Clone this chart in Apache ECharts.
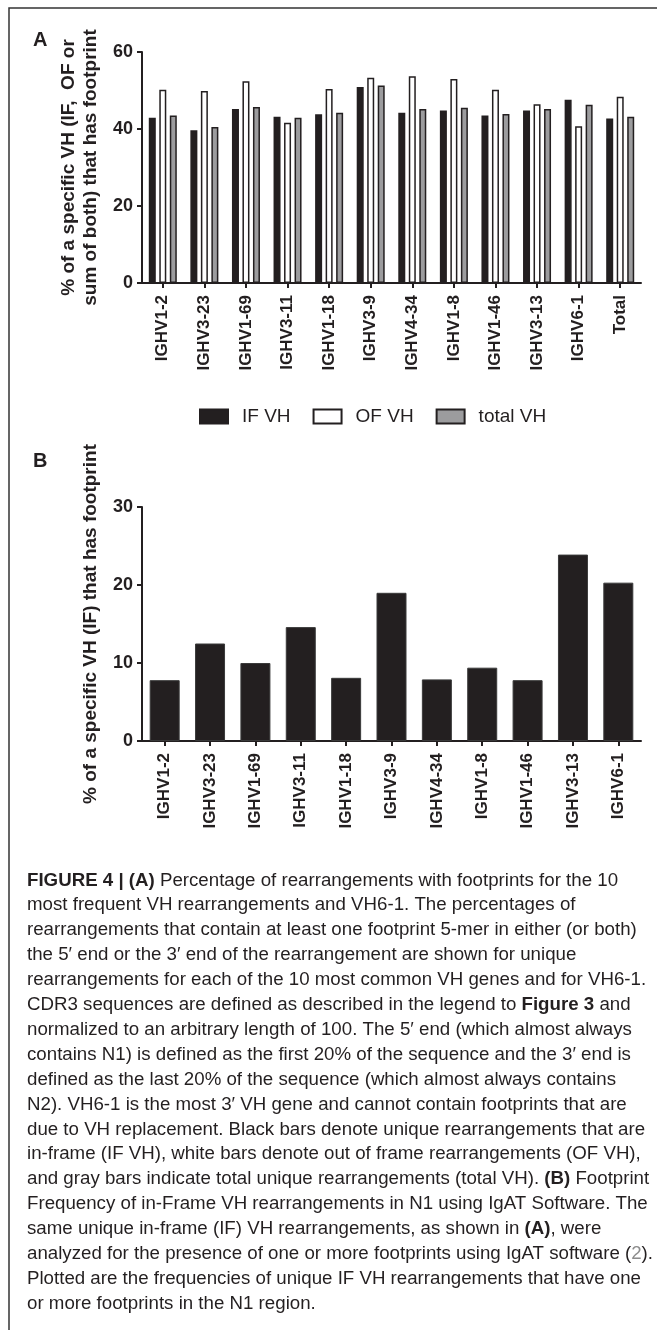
<!DOCTYPE html>
<html>
<head>
<meta charset="utf-8">
<script src="https://cdn.jsdelivr.net/npm/echarts@6/dist/echarts.min.js"></script>
<style>
html,body{margin:0;padding:0;background:#fff;}
#chart{width:657px;height:1330px;}
</style>
</head>
<body>
<div id="chart"></div>
<script>
// ---------- data ----------
const categoriesA = ['IGHV1-2','IGHV3-23','IGHV1-69','IGHV3-11','IGHV1-18','IGHV3-9','IGHV4-34','IGHV1-8','IGHV1-46','IGHV3-13','IGHV6-1','Total'];
const ifVH    = [42.9, 39.7, 45.2, 43.2, 43.8, 50.9, 44.2, 44.8, 43.5, 44.8, 47.6, 42.7];
const ofVH    = [50.2, 49.9, 52.4, 41.6, 50.4, 53.3, 53.7, 53.0, 50.2, 46.4, 40.7, 48.4];
const totalVH = [43.5, 40.5, 45.7, 42.9, 44.2, 51.3, 45.2, 45.5, 43.9, 45.2, 46.3, 43.2];
const seriesNamesA = ['IF VH', 'OF VH', 'total VH'];

const categoriesB = ['IGHV1-2','IGHV3-23','IGHV1-69','IGHV3-11','IGHV1-18','IGHV3-9','IGHV4-34','IGHV1-8','IGHV1-46','IGHV3-13','IGHV6-1'];
const ifN1 = [7.8, 12.5, 10.0, 14.6, 8.1, 19.0, 7.9, 9.4, 7.8, 23.9, 20.3];

const yTicksA = [0, 20, 40, 60];
const yTicksB = [0, 10, 20, 30];

const yTitleA = '% of a specific VH (IF,  OF or\nsum of both) that has footprint';
const yTitleB = '% of a specific VH (IF) that has footprint';

const captionLines = [
  '{b|FIGURE 4 | (A)} Percentage of rearrangements with footprints for the 10',
  'most frequent VH rearrangements and VH6-1. The percentages of',
  'rearrangements that contain at least one footprint 5-mer in either (or both)',
  'the 5\u2032 end or the 3\u2032 end of the rearrangement are shown for unique',
  'rearrangements for each of the 10 most common VH genes and for VH6-1.',
  'CDR3 sequences are defined as described in the legend to {b|Figure 3} and',
  'normalized to an arbitrary length of 100. The 5\u2032 end (which almost always',
  'contains N1) is defined as the first 20% of the sequence and the 3\u2032 end is',
  'defined as the last 20% of the sequence (which almost always contains',
  'N2). VH6-1 is the most 3\u2032 VH gene and cannot contain footprints that are',
  'due to VH replacement. Black bars denote unique rearrangements that are',
  'in-frame (IF VH), white bars denote out of frame rearrangements (OF VH),',
  'and gray bars indicate total unique rearrangements (total VH). {b|(B)} Footprint',
  'Frequency of in-Frame VH rearrangements in N1 using IgAT Software. The',
  'same unique in-frame (IF) VH rearrangements, as shown in {b|(A)}, were',
  'analyzed for the presence of one or more footprints using IgAT software ({g|2}).',
  'Plotted are the frequencies of unique IF VH rearrangements that have one',
  'or more footprints in the N1 region.'
];

// ---------- styles ----------
const FONT = "'Liberation Sans', Arial, Helvetica, sans-serif";
const INK = '#231f20';
const GRAY = '#9c9c9e';
const CAP_SIZE = 18.7;
const CAP_LH = 24.9;

const chart = echarts.init(document.getElementById('chart'), null, {renderer: 'canvas'});

function makeXAxis(gridIndex, cats) {
  return {
    type: 'category', gridIndex: gridIndex, data: cats,
    axisLine: {lineStyle: {color: INK, width: 2}},
    axisTick: {show: true, alignWithLabel: true, length: 5, lineStyle: {color: INK, width: 2}},
    axisLabel: {rotate: 90, margin: 12, fontSize: 17, fontWeight: 'bold', color: INK, fontFamily: FONT, interval: 0}
  };
}
function makeYAxis(gridIndex, ticks, title) {
  return {
    type: 'value', gridIndex: gridIndex,
    min: ticks[0], max: ticks[ticks.length - 1], interval: ticks[1] - ticks[0],
    axisLine: {show: true, lineStyle: {color: INK, width: 2}},
    axisTick: {show: true, length: 5, lineStyle: {color: INK, width: 2}},
    axisLabel: {margin: 9, fontSize: 18, fontWeight: 'bold', color: INK, fontFamily: FONT},
    splitLine: {show: false},
    name: title, nameLocation: 'middle', nameRotate: 90, nameGap: 40,
    nameTextStyle: {fontSize: 19, fontWeight: 'bold', color: INK, fontFamily: FONT, lineHeight: 22, align: 'center'}
  };
}

const option = {
  animation: false,
  backgroundColor: '#fff',
  grid: [
    {left: 142, top: 52, width: 499, height: 231},
    {left: 142, top: 507, width: 499, height: 234}
  ],
  xAxis: [makeXAxis(0, categoriesA), makeXAxis(1, categoriesB)],
  yAxis: [makeYAxis(0, yTicksA, yTitleA), makeYAxis(1, yTicksB, yTitleB)],
  legend: {
    data: seriesNamesA,
    left: 194, top: 402,
    itemWidth: 28, itemHeight: 14, itemGap: 22,
    icon: 'rect',
    textStyle: {fontSize: 19, color: INK, fontFamily: FONT, padding: [0, 0, 0, 9]}
  },
  series: [
    {name: seriesNamesA[0], type: 'bar', xAxisIndex: 0, yAxisIndex: 0, data: ifVH, barWidth: 7, barGap: '50%',
     itemStyle: {color: INK, borderColor: INK, borderWidth: 1.5}},
    {name: seriesNamesA[1], type: 'bar', xAxisIndex: 0, yAxisIndex: 0, data: ofVH, barWidth: 7, barGap: '50%',
     itemStyle: {color: '#ffffff', borderColor: INK, borderWidth: 1.5}},
    {name: seriesNamesA[2], type: 'bar', xAxisIndex: 0, yAxisIndex: 0, data: totalVH, barWidth: 7, barGap: '50%',
     itemStyle: {color: GRAY, borderColor: INK, borderWidth: 1.5}},
    {name: 'IF N1', type: 'bar', xAxisIndex: 1, yAxisIndex: 1, data: ifN1, barWidth: 30,
     itemStyle: {color: INK, borderColor: '#3a3a3a', borderWidth: 1}}
  ],
  graphic: [
    {type: 'polyline', shape: {points: [[9, 1330], [9, 8], [657, 8]]}, style: {stroke: '#333', lineWidth: 1.5, fill: null}},
    {type: 'text', left: 33, top: 30, style: {text: 'A', fontSize: 20, fontWeight: 'bold', fill: INK, fontFamily: FONT}},
    {type: 'text', left: 33, top: 451, style: {text: 'B', fontSize: 20, fontWeight: 'bold', fill: INK, fontFamily: FONT}},
    {type: 'text', left: 27, top: 868,
     style: {
       text: captionLines.join('\n'),
       fontSize: CAP_SIZE, lineHeight: CAP_LH, fill: INK, fontFamily: FONT,
       rich: {
         b: {fontWeight: 'bold', fontSize: CAP_SIZE, lineHeight: CAP_LH, fill: INK, fontFamily: FONT},
         g: {fontSize: CAP_SIZE, lineHeight: CAP_LH, fill: '#8c8c8c', fontFamily: FONT}
       }
     }}
  ]
};
chart.setOption(option);
</script>
</body>
</html>
